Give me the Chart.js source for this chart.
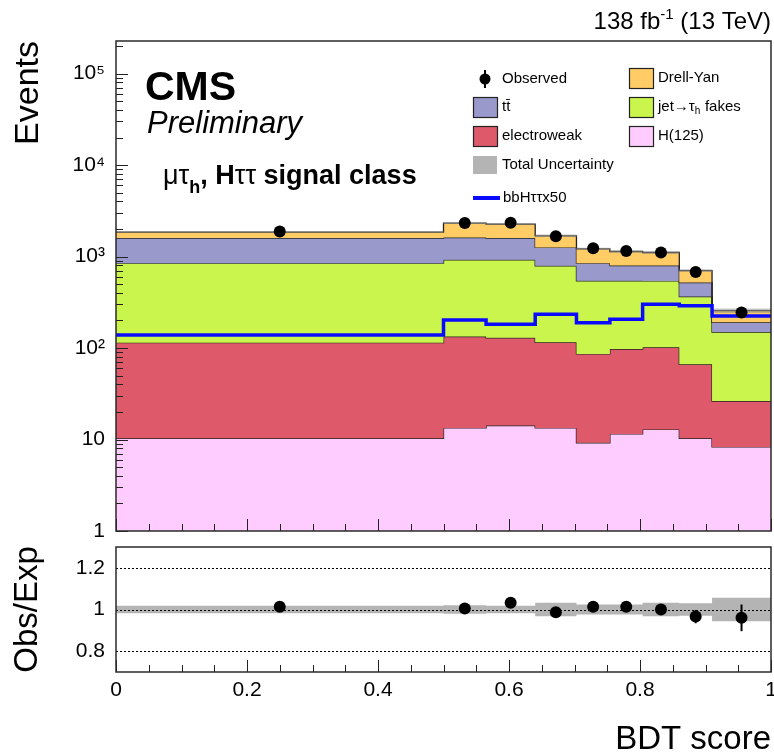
<!DOCTYPE html>
<html><head><meta charset="utf-8">
<script src="https://cdn.jsdelivr.net/npm/chart.js@4.4.1/dist/chart.umd.min.js"></script>
<style>
html,body{margin:0;padding:0;background:#fff;overflow:hidden;width:774px;height:752px;position:relative;}
#c1{position:absolute;left:0;top:0;}
#c2{position:absolute;left:0;top:520px;}
</style></head><body>
<canvas id="c1" width="800" height="560"></canvas>
<canvas id="c2" width="800" height="240"></canvas>
<script>
// ---------------- data ----------------
const binEdges    = [0, 0.5, 0.565, 0.64, 0.703, 0.754, 0.804, 0.86, 0.91, 1.0];
const h125        = [10.3, 13.4, 14.2, 13.4, 9.2, 11.5, 12.9, 10.3, 8.3];
const electroweak = [104, 120, 115, 102, 77, 86, 89, 56, 18];
const jetFakes    = [733, 787, 791, 676, 456, 445, 440, 299, 123];
const ttbar       = [743, 695, 670, 465, 305, 255, 255, 154, 42];
const drellYan    = [260, 705, 675, 429, 368, 338, 310, 184, 65];
const bbHx50      = [139, 203, 182, 234, 189, 206, 301, 289, 224];
const observed    = [1880, 2330, 2340, 1665, 1230, 1150, 1107, 678, 245];
const observedErr = [43, 48, 48, 41, 35, 34, 33, 26, 16];
const ratioObs    = [1.013, 1.005, 1.032, 0.987, 1.013, 1.013, 1.0, 0.966, 0.96];
const ratioErr    = [0.012, 0.013, 0.013, 0.016, 0.018, 0.018, 0.02, 0.032, 0.064];
const ratioUnc    = [0.018, 0.02, 0.018, 0.032, 0.024, 0.024, 0.032, 0.03, 0.056];
const yTickValues = [1, 10, 100, 1000, 10000, 100000];
const yTickLabels = ['1', '10', '10\u00B2', '10\u00B3', '10\u2074', '10\u2075'];
const ratioTickValues = [0.8, 1, 1.2];
const ratioTickLabels = ['0.8', '1', '1.2'];
const xTickValues = [0, 0.2, 0.4, 0.6, 0.8, 1];
const xTickLabels = ['0', '0.2', '0.4', '0.6', '0.8', '1'];

// ---------------- styling ----------------
const FONT = "'Liberation Sans', Arial, Helvetica, sans-serif";
const COL = {dy:'#FFCC66', tt:'#9999CC', fakes:'#C9F54C', ew:'#DE5A6A', h:'#FFCCFF', unc:'#B4B4B4', bbh:'#0A0AFF', line:'#222222'};
const YMAX = 2.27e5;

// ---------------- derived tables for the library ----------------
const centers = binEdges.slice(0, -1).map((e, i) => (e + binEdges[i + 1]) / 2);
function stepPts(vals) {
  const p = vals.map((v, i) => ({x: binEdges[i], y: v}));
  p.push({x: binEdges[binEdges.length - 1], y: vals[vals.length - 1]});
  return p;
}
const layers = [h125, electroweak, jetFakes, ttbar, drellYan];
const cum = [];
layers.forEach((arr, k) => cum.push(arr.map((v, i) => v + (k ? cum[k - 1][i] : 0))));
const total = cum[4];
const totUp = total.map((t, i) => t * (1 + ratioUnc[i]));
const totLo = total.map((t, i) => t * (1 - ratioUnc[i]));
const rUp = ratioUnc.map(u => 1 + u);
const rLo = ratioUnc.map(u => 1 - u);

function stepDs(label, vals, bg, fill, border, bw) {
  return {label, data: stepPts(vals), stepped: true, fill, backgroundColor: bg,
          borderColor: border, borderWidth: bw, pointRadius: 0, tension: 0};
}

// ---------------- helpers ----------------
function txt(ctx, s, x, y, font, align, base) {
  ctx.font = font; ctx.textAlign = align || 'left'; ctx.textBaseline = base || 'alphabetic';
  ctx.fillText(s, x, y); return ctx.measureText(s).width;
}
function drawTicksX(ctx, a, xs) {
  ctx.strokeStyle = '#222'; ctx.lineWidth = 1;
  for (let k = 0; k <= 20; k++) {
    const x = Math.round(xs.getPixelForValue(k / 20)) + 0.5;
    const len = (k % 4 === 0) ? 12 : 7;
    ctx.beginPath(); ctx.moveTo(x, a.bottom); ctx.lineTo(x, a.bottom - len); ctx.stroke();
  }
}
function drawFrame(ctx, a) {
  ctx.strokeStyle = '#2a2a2a'; ctx.lineWidth = 1.5;
  ctx.strokeRect(a.left, a.top, a.right - a.left, a.bottom - a.top);
}
function legBox(ctx, x, y, w, h, c, border) {
  ctx.fillStyle = c; ctx.fillRect(x, y, w, h);
  if (border) { ctx.strokeStyle = '#222'; ctx.lineWidth = 1.2; ctx.strokeRect(x + 0.5, y + 0.5, w, h); }
}

// ---------------- main panel plugin ----------------
const mainDecor = {
  id: 'mainDecor',
  beforeDatasetDraw(chart, args) {
    if (args.index !== 0) return;
    const ctx = chart.ctx, xs = chart.scales.x, ys = chart.scales.y;
    ctx.save(); ctx.strokeStyle = '#000'; ctx.lineWidth = 2;
    observed.forEach((v, i) => {
      const x = xs.getPixelForValue(centers[i]);
      ctx.beginPath(); ctx.moveTo(x, ys.getPixelForValue(v - observedErr[i]) + 2);
      ctx.lineTo(x, ys.getPixelForValue(v + observedErr[i]) - 2); ctx.stroke();
    });
    ctx.restore();
  },
  afterDraw(chart) {
    const ctx = chart.ctx, a = chart.chartArea, xs = chart.scales.x, ys = chart.scales.y;
    ctx.save();
    drawTicksX(ctx, a, xs);
    ctx.strokeStyle = '#222'; ctx.lineWidth = 1;
    for (let d = 0; d <= 5; d++) {
      for (let m = 1; m <= 9; m++) {
        const v = m * Math.pow(10, d);
        if (v > YMAX) continue;
        const y = Math.round(ys.getPixelForValue(v)) + 0.5;
        const len = m === 1 ? 12 : 7;
        ctx.beginPath(); ctx.moveTo(a.left, y); ctx.lineTo(a.left + len, y); ctx.stroke();
      }
    }
    drawFrame(ctx, a);

    ctx.fillStyle = '#000';
    txt(ctx, 'CMS', 145, 100, 'bold 41px ' + FONT);
    txt(ctx, 'Preliminary', 147, 133, 'italic 31px ' + FONT);
    // channel label
    let x = 163; const by = 184;
    x += txt(ctx, '\u03BC\u03C4', x, by, '27px ' + FONT);
    txt(ctx, 'h', x, by + 9, 'bold 18px ' + FONT);
    x += 11;
    x += txt(ctx, ', H', x, by, 'bold 27px ' + FONT);
    x += txt(ctx, '\u03C4\u03C4', x, by, '27px ' + FONT);
    txt(ctx, ' signal class', x, by, 'bold 27px ' + FONT);
    // lumi
    ctx.font = '24px ' + FONT; const w1 = ctx.measureText('138 fb').width, w3 = ctx.measureText(' (13 TeV)').width;
    ctx.font = '15px ' + FONT; const w2 = ctx.measureText('-1').width;
    let lx = 771 - (w1 + w2 + w3);
    lx += txt(ctx, '138 fb', lx, 29, '24px ' + FONT);
    lx += txt(ctx, '-1', lx, 19, '15px ' + FONT);
    txt(ctx, ' (13 TeV)', lx, 29, '24px ' + FONT);

    // legend
    const lf = '15px ' + FONT;
    ctx.fillStyle = '#000';
    ctx.beginPath(); ctx.arc(485, 79, 5.5, 0, 2 * Math.PI); ctx.fill();
    ctx.strokeStyle = '#000'; ctx.lineWidth = 2;
    ctx.beginPath(); ctx.moveTo(485, 70); ctx.lineTo(485, 88); ctx.stroke();
    txt(ctx, 'Observed', 502, 79, lf, 'left', 'middle');
    legBox(ctx, 473, 97, 24, 20, COL.tt, true);
    ctx.fillStyle = '#000'; txt(ctx, 'tt\u0304', 502, 107, lf, 'left', 'middle');
    legBox(ctx, 473, 126, 24, 20, COL.ew, true);
    ctx.fillStyle = '#000'; txt(ctx, 'electroweak', 502, 136, lf, 'left', 'middle');
    legBox(ctx, 473, 156, 24, 18, COL.unc, false);
    ctx.fillStyle = '#000'; txt(ctx, 'Total Uncertainty', 502, 165, lf, 'left', 'middle');
    ctx.strokeStyle = COL.bbh; ctx.lineWidth = 4;
    ctx.beginPath(); ctx.moveTo(473, 198); ctx.lineTo(500, 198); ctx.stroke();
    ctx.fillStyle = '#000'; txt(ctx, 'bbH\u03C4\u03C4x50', 503, 198, lf, 'left', 'middle');
    legBox(ctx, 629, 68, 24, 20, COL.dy, true);
    ctx.fillStyle = '#000'; txt(ctx, 'Drell-Yan', 658, 78, lf, 'left', 'middle');
    legBox(ctx, 629, 97, 24, 20, COL.fakes, true);
    ctx.fillStyle = '#000';
    let jx = 658;
    jx += txt(ctx, 'jet\u2192\u03C4', jx, 107, lf, 'left', 'middle');
    txt(ctx, 'h', jx, 111, '10px ' + FONT, 'left', 'middle');
    jx += 6;
    txt(ctx, ' fakes', jx, 107, lf, 'left', 'middle');
    legBox(ctx, 629, 126, 24, 20, COL.h, true);
    ctx.fillStyle = '#000'; txt(ctx, 'H(125)', 658, 136, lf, 'left', 'middle');
    ctx.restore();
  }
};

new Chart(document.getElementById('c1'), {
  type: 'line',
  data: {
    datasets: [
      {label: 'Observed', data: observed.map((v, i) => ({x: centers[i], y: v})), showLine: false,
       pointRadius: 6, pointBackgroundColor: '#000', pointBorderWidth: 0, borderColor: '#000'},
      stepDs('bbH\u03C4\u03C4x50', bbHx50, 'transparent', false, COL.bbh, 3.5),
      stepDs('Total Uncertainty', totUp, 'rgba(150,150,150,0.55)', '+1', 'transparent', 0.01),
      stepDs('unc-low', totLo, 'transparent', false, 'transparent', 0.01),
      stepDs('Drell-Yan', cum[4], COL.dy, '+1', COL.line, 1.3),
      stepDs('tt\u0304', cum[3], COL.tt, '+1', COL.line, 1.3),
      stepDs('jet\u2192\u03C4h fakes', cum[2], COL.fakes, '+1', COL.line, 1.3),
      stepDs('electroweak', cum[1], COL.ew, '+1', COL.line, 1.3),
      stepDs('H(125)', cum[0], COL.h, 'start', COL.line, 1.3)
    ]
  },
  options: {
    responsive: false, animation: false, devicePixelRatio: 1,
    layout: {padding: {left: 0, top: 41, right: 29, bottom: 29}},
    plugins: {legend: {display: false}, tooltip: {enabled: false}, filler: {propagate: false}},
    scales: {
      x: {type: 'linear', min: 0, max: 1, display: false},
      y: {type: 'logarithmic', min: 1, max: YMAX, position: 'left',
          afterFit: s => { s.width = 116; },
          afterBuildTicks: s => { s.ticks = yTickValues.map(v => ({value: v})); },
          grid: {display: false, drawTicks: false}, border: {display: false},
          ticks: {font: {family: FONT, size: 21}, color: '#000', padding: 11,
                  callback: v => yTickLabels[yTickValues.indexOf(v)]},
          title: {display: true, text: 'Events', align: 'end', color: '#000',
                  font: {family: FONT, size: 34}, padding: {top: 8, bottom: 0}}}
    }
  },
  plugins: [mainDecor]
});

// ---------------- ratio panel ----------------
const ratioDecor = {
  id: 'ratioDecor',
  beforeDatasetDraw(chart, args) {
    if (args.index !== 0) return;
    const ctx = chart.ctx, a = chart.chartArea, xs = chart.scales.x, ys = chart.scales.y;
    ctx.save();
    ctx.strokeStyle = '#000'; ctx.lineWidth = 1; ctx.setLineDash([2, 2]);
    ratioTickValues.forEach(v => {
      const y = Math.round(ys.getPixelForValue(v)) + 0.5;
      ctx.beginPath(); ctx.moveTo(a.left, y); ctx.lineTo(a.right, y); ctx.stroke();
    });
    ctx.setLineDash([]); ctx.lineWidth = 2;
    ratioObs.forEach((v, i) => {
      const x = xs.getPixelForValue(centers[i]);
      ctx.beginPath(); ctx.moveTo(x, ys.getPixelForValue(v - ratioErr[i]));
      ctx.lineTo(x, ys.getPixelForValue(v + ratioErr[i])); ctx.stroke();
    });
    ctx.restore();
  },
  afterDraw(chart) {
    const ctx = chart.ctx, a = chart.chartArea, xs = chart.scales.x;
    ctx.save();
    drawTicksX(ctx, a, xs);
    drawFrame(ctx, a);
    ctx.restore();
  }
};

new Chart(document.getElementById('c2'), {
  type: 'line',
  data: {
    datasets: [
      {label: 'Obs/Exp', data: ratioObs.map((v, i) => ({x: centers[i], y: v})), showLine: false,
       pointRadius: 6, pointBackgroundColor: '#000', pointBorderWidth: 0, borderColor: '#000'},
      stepDs('unc-up', rUp, COL.unc, '+1', 'transparent', 0.01),
      stepDs('unc-low', rLo, 'transparent', false, 'transparent', 0.01)
    ]
  },
  options: {
    responsive: false, animation: false, devicePixelRatio: 1,
    layout: {padding: {left: 0, top: 27, right: 29, bottom: 0}},
    plugins: {legend: {display: false}, tooltip: {enabled: false}, filler: {propagate: false}},
    scales: {
      x: {type: 'linear', min: 0, max: 1, position: 'bottom',
          afterFit: s => { s.height = 88; },
          afterBuildTicks: s => { s.ticks = xTickValues.map(v => ({value: v})); },
          grid: {display: false, drawTicks: false}, border: {display: false},
          ticks: {font: {family: FONT, size: 21}, color: '#000', padding: 6, maxRotation: 0, autoSkip: false,
                  callback: v => xTickLabels[xTickValues.indexOf(v)]},
          title: {display: true, text: 'BDT score', align: 'end', color: '#000',
                  font: {family: FONT, size: 33}, padding: {top: 0, bottom: 0}}},
      y: {type: 'linear', min: 0.7, max: 1.3, position: 'left',
          afterFit: s => { s.width = 116; },
          afterBuildTicks: s => { s.ticks = ratioTickValues.map(v => ({value: v})); },
          grid: {display: false, drawTicks: false}, border: {display: false},
          ticks: {font: {family: FONT, size: 21}, color: '#000', padding: 11,
                  callback: v => ratioTickLabels[ratioTickValues.indexOf(v)]},
          title: {display: true, text: 'Obs/Exp', align: 'center', color: '#000',
                  font: {family: FONT, size: 33}, padding: {top: 8, bottom: 0}}}
    }
  },
  plugins: [ratioDecor]
});
</script>
</body></html>
